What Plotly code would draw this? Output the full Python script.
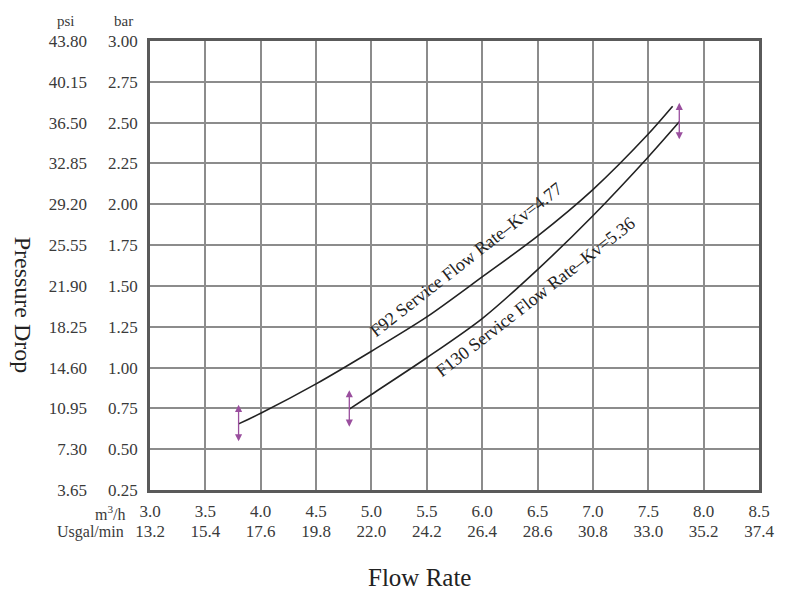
import plotly.graph_objects as go

# axis ticks (bar / m3/h are the real scales, psi / Usgal/min are paired labels)
flow_ticks = [3.0, 3.5, 4.0, 4.5, 5.0, 5.5, 6.0, 6.5, 7.0, 7.5, 8.0, 8.5]
gal_labels = ["13.2", "15.4", "17.6", "19.8", "22.0", "24.2",
              "26.4", "28.6", "30.8", "33.0", "35.2", "37.4"]
bar_ticks = [0.25, 0.50, 0.75, 1.00, 1.25, 1.50, 1.75, 2.00, 2.25, 2.50, 2.75, 3.00]
psi_labels = ["3.65", "7.30", "10.95", "14.60", "18.25", "21.90",
              "25.55", "29.20", "32.85", "36.50", "40.15", "43.80"]

# curves (flow in m3/h, pressure drop in bar)
f92_flow = [3.8, 4.0, 4.5, 5.0, 5.5, 6.0, 6.5, 7.0, 7.5, 7.72]
f92_bar = [0.655, 0.72, 0.90, 1.10, 1.31, 1.555, 1.805, 2.09, 2.43, 2.60]
f130_flow = [4.8, 5.0, 5.5, 6.0, 6.5, 7.0, 7.5, 7.78]
f130_bar = [0.745, 0.835, 1.06, 1.30, 1.60, 1.93, 2.29, 2.505]

serif = "Liberation Serif, Times New Roman, serif"
txt = "#3a3a3a"

fig = go.Figure()

fig.add_trace(go.Scatter(x=f92_flow, y=f92_bar, mode="lines",
                         line=dict(color="#222222", width=1.6, shape="spline", smoothing=0.8),
                         hoverinfo="skip", showlegend=False))
fig.add_trace(go.Scatter(x=f130_flow, y=f130_bar, mode="lines",
                         line=dict(color="#222222", width=1.6, shape="spline", smoothing=0.8),
                         hoverinfo="skip", showlegend=False))
# dummy trace so the paired label axes are drawn
fig.add_trace(go.Scatter(x=[flow_ticks[0]], y=[bar_ticks[0]], xaxis="x2", yaxis="y2",
                         mode="markers", marker=dict(opacity=0),
                         hoverinfo="skip", showlegend=False))

# purple double arrows at the ends of the range
for ax_x, ax_y in [(f92_flow[0], f92_bar[0]), (f130_flow[0], f130_bar[0]),
                   (f130_flow[-1], f130_bar[-1])]:
    fig.add_annotation(x=ax_x, y=ax_y, text="", showarrow=True,
                       arrowside="end+start", arrowhead=2, arrowsize=1.1,
                       arrowwidth=1.3, arrowcolor="#9a4f9e",
                       ax=0, ay=38, yshift=19)

# curve labels
fig.add_annotation(x=5.85, y=1.66, text="F92 Service Flow Rate–Kv=4.77",
                   textangle=-38, showarrow=False, xanchor="center", yanchor="middle",
                   font=dict(family=serif, size=18, color="#222222"))
fig.add_annotation(x=6.48, y=1.43, text="F130 Service Flow Rate–Kv=5.36",
                   textangle=-38, showarrow=False, xanchor="center", yanchor="middle",
                   font=dict(family=serif, size=18, color="#222222"))


def paper_note(x, y, text, size, xanchor="center", angle=0, color=txt):
    fig.add_annotation(xref="paper", yref="paper", x=x, y=y, text=text,
                       showarrow=False, xanchor=xanchor, yanchor="middle",
                       textangle=angle, font=dict(family=serif, size=size, color=color))


# unit headers
paper_note(-0.138, 1.0445, "psi", 15)
paper_note(-0.0443, 1.0445, "bar", 15)
paper_note(-0.036, -0.052, "m<sup>3</sup>/h", 16, xanchor="right")
paper_note(-0.039, -0.0935, "Usgal/min", 16, xanchor="right")

# axis titles
paper_note(0.443, -0.1938, "Flow Rate", 25, color="#222222")
paper_note(-0.208, 0.412, "Pressure Drop", 24, angle=90, color="#222222")

tickfont = dict(family=serif, size=17, color=txt)
fig.update_layout(
    # page body keeps an 8px margin, so the figure is 8px smaller and shifted
    width=781, height=584, autosize=False,
    margin=dict(l=142, r=30, t=33, b=102),
    plot_bgcolor="white", paper_bgcolor="white",
    xaxis=dict(range=[3.0, 8.5], tickvals=flow_ticks, tickformat=".1f",
               showgrid=True, gridcolor="#8c8c8c", gridwidth=1.5,
               showline=True, mirror=True, linecolor="#5a5a5a", linewidth=2.5,
               zeroline=False, ticks="", tickfont=tickfont, ticklabelstandoff=4),
    yaxis=dict(range=[0.25, 3.0], tickvals=bar_ticks, tickformat=".2f",
               showgrid=True, gridcolor="#8c8c8c", gridwidth=1.5,
               showline=True, mirror=True, linecolor="#5a5a5a", linewidth=2.5,
               zeroline=False, ticks="", tickfont=tickfont, ticklabelstandoff=6),
    xaxis2=dict(range=[3.0, 8.5], overlaying="x", side="bottom", anchor="y",
                tickvals=flow_ticks, ticktext=gal_labels, showgrid=False,
                showline=False, zeroline=False, ticks="", tickfont=tickfont,
                ticklabelstandoff=29),
    yaxis2=dict(range=[0.25, 3.0], overlaying="y", side="left", anchor="x",
                tickvals=bar_ticks, ticktext=psi_labels, showgrid=False,
                showline=False, zeroline=False, ticks="", tickfont=tickfont,
                ticklabelstandoff=62),
    showlegend=False,
)

fig.write_html("out.html")
